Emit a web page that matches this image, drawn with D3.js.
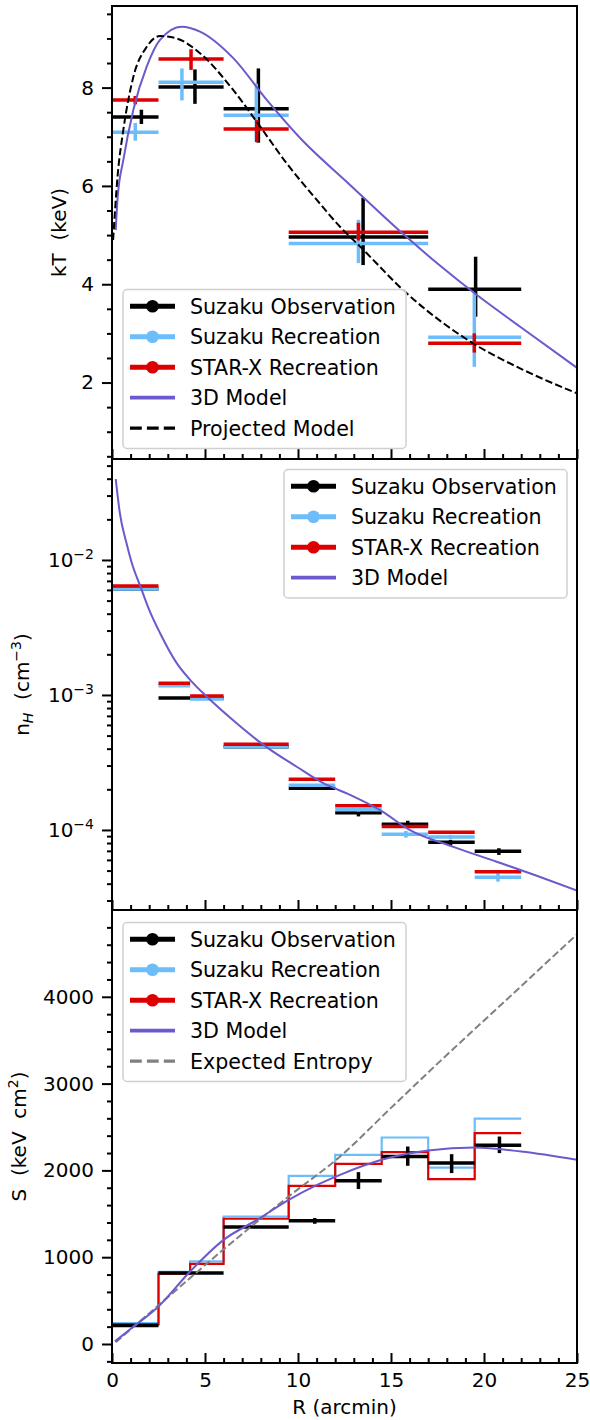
<!DOCTYPE html>
<html>
<head>
<meta charset="utf-8">
<script src="https://cdn.jsdelivr.net/npm/d3@7"></script>
<style>
body { margin: 0; background: #fff; }
svg text { font-family: "DejaVu Sans", sans-serif; font-size: 20px; fill: #000; }
.axis line { stroke: #000; stroke-width: 2; }
.axis path { display: none; }
.axis text { font-size: 20px; }
.legend text { font-size: 20.6px; }
</style>
</head>
<body>
<div id="chart"></div>
<script>
// ---- data ----
// temperature panel (keV)
var ktEdges = [0, 2.5, 6, 9.5, 17, 22];
var ktObsX = [1.58, 4.46, 7.87, 13.5, 19.55];
var ktObs = [7.40, 8.01, 7.57, 4.96, 3.90];
var ktObsLo = [7.26, 7.67, 6.88, 4.39, 3.34];
var ktObsHi = [7.55, 8.37, 8.39, 5.76, 4.56];
var ktSuzX = [1.25, 3.76, 7.76, 13.25, 19.48];
var ktSuz = [7.09, 8.11, 7.44, 4.83, 2.92];
var ktSuzLo = [6.92, 7.74, 6.90, 4.43, 2.32];
var ktSuzHi = [7.28, 8.39, 8.08, 5.31, 3.82];
var ktStarX = [1.25, 4.25, 7.78, 13.25, 19.48];
var ktStar = [7.75, 8.58, 7.16, 5.06, 2.80];
var ktStarLo = [7.66, 8.36, 6.89, 4.89, 2.61];
var ktStarHi = [7.83, 8.78, 7.34, 5.25, 3.00];
var kt3dR = [0.2, 0.3, 0.61, 1.15, 1.87, 2.58, 3.75, 4.73, 6.52, 8.32, 10.1, 12.8, 15.66, 17.63, 19.55, 22, 25];
var kt3d = [5.1, 5.75, 6.53, 7.55, 8.43, 8.97, 9.24, 9.14, 8.60, 7.75, 6.98, 6.02, 5.02, 4.38, 3.80, 3.12, 2.30];
var ktProjR = [0.06, 0.3, 0.61, 1.15, 1.87, 2.58, 3.48, 4.73, 6.52, 7.96, 9.39, 11.0, 12.26, 13.33, 15.83, 19.4, 22.1, 25];
var ktProj = [4.9, 6.2, 7.14, 8.22, 8.83, 9.05, 9.0, 8.70, 7.95, 7.21, 6.46, 5.72, 5.17, 4.77, 3.82, 2.80, 2.26, 1.78];

// density panel (cm^-3)
var nhEdges = [0, 2.5, 4.2, 6, 9.5, 12, 14.5, 17, 19.5, 22];
var nhObsX = [1.25, 3.3, 5.1, 7.75, 10.75, 13.25, 15.9, 18.2, 20.8];
var nhObs = [6.1e-3, 9.5e-4, 9.5e-4, 4.14e-4, 2.04e-4, 1.34e-4, 1.10e-4, 8.1e-5, 6.95e-5];
var nhObsLo = [6.0e-3, 9.35e-4, 9.35e-4, 4.08e-4, 2.0e-4, 1.26e-4, 1.03e-4, 7.66e-5, 6.53e-5];
var nhObsHi = [6.2e-3, 9.65e-4, 9.65e-4, 4.2e-4, 2.08e-4, 1.42e-4, 1.17e-4, 8.44e-5, 7.32e-5];
var nhSuzX = [1.25, 3.3, 5.1, 7.75, 10.75, 13.25, 15.8, 18.2, 20.75];
var nhSuz = [6.1e-3, 1.17e-3, 9.34e-4, 4.14e-4, 2.14e-4, 1.41e-4, 9.3e-5, 8.85e-5, 4.47e-5];
var nhSuzLo = [6.0e-3, 1.15e-3, 9.2e-4, 4.08e-4, 2.1e-4, 1.37e-4, 8.77e-5, 8.53e-5, 4.14e-5];
var nhSuzHi = [6.2e-3, 1.19e-3, 9.5e-4, 4.2e-4, 2.18e-4, 1.44e-4, 9.84e-5, 9.19e-5, 4.78e-5];
var nhStar = [6.41e-3, 1.22e-3, 9.84e-4, 4.31e-4, 2.37e-4, 1.51e-4, 1.06e-4, 9.61e-5, 4.91e-5];
var nhStarLo = [6.35e-3, 1.21e-3, 9.75e-4, 4.27e-4, 2.35e-4, 1.49e-4, 1.05e-4, 9.5e-5, 4.85e-5];
var nhStarHi = [6.47e-3, 1.23e-3, 9.93e-4, 4.35e-4, 2.39e-4, 1.53e-4, 1.07e-4, 9.72e-5, 4.97e-5];
var nh3dR = [0.2, 0.43, 0.75, 1.06, 1.54, 2.0, 2.58, 3.48, 4.3, 5.09, 6.7, 8.14, 9.93, 11.36, 12.8, 14.5, 16.0, 18.35, 20.68, 22.8, 25];
var nh3d = [0.0398, 0.0219, 0.0138, 0.00955, 6.3e-3, 4.27e-3, 2.88e-3, 1.72e-3, 1.25e-3, 9.73e-4, 6.17e-4, 4.27e-4, 2.94e-4, 2.22e-4, 1.82e-4, 1.38e-4, 1.0e-4, 7.5e-5, 5.82e-5, 4.6e-5, 3.56e-5];

// entropy panel (keV cm^2)
var sEdges = [0, 2.5, 4.2, 6, 9.5, 12, 14.5, 17, 19.5, 22];
var sObsX = [1.25, 3.3, 5.1, 7.75, 10.9, 13.25, 15.9, 18.26, 20.83];
var sObs = [214, 817, 817, 1347, 1420, 1880, 2160, 2084, 2291];
var sObsLo = [205, 805, 805, 1335, 1385, 1785, 2053, 1969, 2199];
var sObsHi = [223, 829, 829, 1359, 1451, 1980, 2275, 2187, 2390];
var sSuz = [242, 832, 951, 1469, 1938, 2179, 2379, 2033, 2597];
var sStar = [226, 809, 924, 1443, 1822, 2076, 2210, 1900, 2429];
var s3dR = [0.16, 1.06, 2.5, 4.2, 6.0, 7.8, 9.5, 11.0, 12.26, 14.5, 17, 19.5, 22, 25];
var s3d = [30, 184, 433, 836, 1200, 1430, 1660, 1830, 1949, 2122, 2229, 2263, 2217, 2122];
var sExpR = [0.2, 4.2, 6, 9.5, 12.26, 15, 17.5, 21.2, 25];
var sExp = [20, 760, 1090, 1700, 2160, 2720, 3230, 3964, 4720];

var legendTop = ["Suzaku Observation", "Suzaku Recreation", "STAR-X Recreation", "3D Model", "Projected Model"];
var legendMid = ["Suzaku Observation", "Suzaku Recreation", "STAR-X Recreation", "3D Model"];
var legendBot = ["Suzaku Observation", "Suzaku Recreation", "STAR-X Recreation", "3D Model", "Expected Entropy"];

var cBlack = "#000000", cBlue = "#6cbdf9", cRed = "#dd0000", cPurple = "#6a5acd", cGray = "#808080";

// ---- layout ----
var svgWidth = 590, svgHeight = 1420;
var left = 112, right = 577;
var tops = [6, 459, 910], bottoms = [459, 910, 1363];

var svg = d3.select("#chart").append("svg")
    .attr("width", svgWidth)
    .attr("height", svgHeight);

var x = d3.scaleLinear().domain([0, 25]).range([left, right]);
var yKT = d3.scaleLinear().domain([0.445, 9.66]).range([bottoms[0], tops[0]]);
var yNH = d3.scaleLog().domain([Math.pow(10, -4.593), Math.pow(10, -1.252)]).range([bottoms[1], tops[1]]);
var yS = d3.scaleLinear().domain([-219, 5000]).range([bottoms[2], tops[2]]);

// clip each panel
var defs = svg.append("defs");
tops.forEach(function(t, i) {
    defs.append("clipPath").attr("id", "clip" + i)
        .append("rect").attr("x", left).attr("y", t)
        .attr("width", right - left).attr("height", bottoms[i] - t);
});

var panels = tops.map(function(t, i) {
    return svg.append("g").attr("clip-path", "url(#clip" + i + ")");
});

// x ticks (inward) on every panel
bottoms.forEach(function(b, i) {
    svg.append("g").attr("class", "axis")
        .attr("transform", `translate(0, ${b})`)
        .call(d3.axisBottom(x).tickValues(d3.range(0, 26, 1).filter(d => d % 5)).tickSize(-5).tickFormat(""));
    svg.append("g").attr("class", "axis")
        .attr("transform", `translate(0, ${b})`)
        .call(d3.axisBottom(x).tickValues([0, 5, 10, 15, 20, 25]).tickSize(-10).tickPadding(10)
            .tickFormat(i == 2 ? d3.format("d") : ""));
});

// y axis, kT
svg.append("g").attr("class", "axis").attr("transform", `translate(${left}, 0)`)
    .call(d3.axisLeft(yKT).tickValues(d3.range(0.5, 9.6, 0.5).filter(d => d % 2)).tickSize(5).tickFormat(""));
svg.append("g").attr("class", "axis").attr("transform", `translate(${left}, 0)`)
    .call(d3.axisLeft(yKT).tickValues([2, 4, 6, 8]).tickSize(10).tickPadding(8));

// y axis, nH (log)
var nhMinor = [];
[-5, -4, -3, -2].forEach(function(e) {
    for (var k = 2; k <= 9; k++) {
        var v = k * Math.pow(10, e);
        if (v > yNH.domain()[0] && v < yNH.domain()[1]) nhMinor.push(v);
    }
});
svg.append("g").attr("class", "axis").attr("transform", `translate(${left}, 0)`)
    .call(d3.axisLeft(yNH).tickValues(nhMinor).tickSize(5).tickFormat(""));
svg.append("g").attr("class", "axis").attr("transform", `translate(${left}, 0)`)
    .call(d3.axisLeft(yNH).tickValues([1e-4, 1e-3, 1e-2]).tickSize(10).tickFormat(""));
[-4, -3, -2].forEach(function(e) {
    var t = svg.append("text")
        .attr("x", left - 18)
        .attr("y", yNH(Math.pow(10, e)) + 7)
        .attr("text-anchor", "end");
    t.append("tspan").text("10");
    t.append("tspan").attr("dy", -7.5).style("font-size", "14px").text("\u2212" + (-e));
});

// y axis, S
svg.append("g").attr("class", "axis").attr("transform", `translate(${left}, 0)`)
    .call(d3.axisLeft(yS).tickValues(d3.range(-200, 5000, 200).filter(d => d % 1000)).tickSize(5).tickFormat(""));
svg.append("g").attr("class", "axis").attr("transform", `translate(${left}, 0)`)
    .call(d3.axisLeft(yS).tickValues([0, 1000, 2000, 3000, 4000]).tickSize(10).tickPadding(8).tickFormat(d3.format("d")));

// error bar crosses
function drawErr(g, yScale, edges, xs, vals, lo, hi, color) {
    vals.forEach(function(v, i) {
        g.append("line")
            .attr("x1", x(edges[i])).attr("x2", x(edges[i + 1]))
            .attr("y1", yScale(v)).attr("y2", yScale(v))
            .attr("stroke", color).attr("stroke-width", 3.5);
        g.append("line")
            .attr("x1", x(xs[i])).attr("x2", x(xs[i]))
            .attr("y1", yScale(lo[i])).attr("y2", yScale(hi[i]))
            .attr("stroke", color).attr("stroke-width", 3.5);
    });
}

function drawCurve(g, yScale, rs, vals, color, width, dash) {
    var line = d3.line()
        .x((d, i) => x(rs[i]))
        .y(d => yScale(d))
        .curve(d3.curveMonotoneX);
    g.append("path")
        .attr("d", line(vals))
        .attr("fill", "none")
        .attr("stroke", color)
        .attr("stroke-width", width)
        .attr("stroke-dasharray", dash || null);
}

function drawStep(g, yScale, edges, vals, color) {
    var pts = vals.map((v, i) => [edges[i], v]);
    pts.push([edges[edges.length - 1], vals[vals.length - 1]]);
    var line = d3.line()
        .x(d => x(d[0]))
        .y(d => yScale(d[1]))
        .curve(d3.curveStepAfter);
    g.append("path")
        .attr("d", line(pts))
        .attr("fill", "none")
        .attr("stroke", color)
        .attr("stroke-width", 2.2);
}

// top panel
drawErr(panels[0], yKT, ktEdges, ktObsX, ktObs, ktObsLo, ktObsHi, cBlack);
drawErr(panels[0], yKT, ktEdges, ktSuzX, ktSuz, ktSuzLo, ktSuzHi, cBlue);
drawErr(panels[0], yKT, ktEdges, ktStarX, ktStar, ktStarLo, ktStarHi, cRed);
drawCurve(panels[0], yKT, kt3dR, kt3d, cPurple, 2);
drawCurve(panels[0], yKT, ktProjR, ktProj, cBlack, 2, "7.4,3.2");

// middle panel
drawErr(panels[1], yNH, nhEdges, nhObsX, nhObs, nhObsLo, nhObsHi, cBlack);
drawErr(panels[1], yNH, nhEdges, nhSuzX, nhSuz, nhSuzLo, nhSuzHi, cBlue);
drawErr(panels[1], yNH, nhEdges, nhSuzX, nhStar, nhStarLo, nhStarHi, cRed);
drawCurve(panels[1], yNH, nh3dR, nh3d, cPurple, 2);

// bottom panel
drawStep(panels[2], yS, sEdges, sSuz, cBlue);
drawStep(panels[2], yS, sEdges, sStar, cRed);
drawErr(panels[2], yS, sEdges, sObsX, sObs, sObsLo, sObsHi, cBlack);
drawCurve(panels[2], yS, sExpR, sExp, cGray, 2, "7.4,3.2");
drawCurve(panels[2], yS, s3dR, s3d, cPurple, 2);

// panel frames
tops.forEach(function(t, i) {
    svg.append("rect")
        .attr("x", left).attr("y", t)
        .attr("width", right - left).attr("height", bottoms[i] - t)
        .attr("fill", "none").attr("stroke", "#000").attr("stroke-width", 2);
});

// legends
var handleStyle = [
    {color: cBlack, w: 5, marker: true},
    {color: cBlue, w: 5, marker: true},
    {color: cRed, w: 5, marker: true}
];
function legend(x0, y0, labels, extra) {
    var styles = handleStyle.concat(extra);
    var rowH = 30.5;
    var h = labels.length * rowH + 6.5;
    var g = svg.append("g").attr("class", "legend");
    g.append("rect")
        .attr("x", x0).attr("y", y0)
        .attr("width", 283).attr("height", h)
        .attr("rx", 4)
        .attr("fill", "#fff").attr("fill-opacity", 0.8)
        .attr("stroke", "#d0d0d0").attr("stroke-width", 1.5);
    labels.forEach(function(lab, i) {
        var cy = y0 + 16.7 + i * rowH;
        var s = styles[i];
        g.append("line")
            .attr("x1", x0 + 7).attr("x2", x0 + 52)
            .attr("y1", cy).attr("y2", cy)
            .attr("stroke", s.color).attr("stroke-width", s.w)
            .attr("stroke-dasharray", s.dash || null);
        if (s.marker) {
            g.append("circle")
                .attr("cx", x0 + 29.5).attr("cy", cy).attr("r", 6.3)
                .attr("fill", s.color);
        }
        g.append("text")
            .attr("x", x0 + 67).attr("y", cy + 7.4)
            .text(lab);
    });
}
legend(123, 289.5, legendTop, [{color: cPurple, w: 3.8}, {color: cBlack, w: 3.2, dash: "11.8,5.1"}]);
legend(284, 469.5, legendMid, [{color: cPurple, w: 3.8}]);
legend(123, 922.5, legendBot, [{color: cPurple, w: 3.8}, {color: cGray, w: 3.2, dash: "11.8,5.1"}]);

// axis labels
svg.append("text")
    .attr("transform", `translate(66, ${(tops[0] + bottoms[0]) / 2}) rotate(-90)`)
    .attr("text-anchor", "middle")
    .text("kT\u00a0\u00a0(keV)");

var nhLabel = svg.append("text")
    .attr("transform", `translate(29, ${(tops[1] + bottoms[1]) / 2}) rotate(-90)`)
    .attr("text-anchor", "middle");
nhLabel.append("tspan").text("n");
nhLabel.append("tspan").attr("dy", 4).style("font-size", "14px").style("font-style", "italic").text("H");
nhLabel.append("tspan").attr("dy", -4).text("\u00a0\u00a0(cm");
nhLabel.append("tspan").attr("dy", -8).style("font-size", "14px").text("\u22123");
nhLabel.append("tspan").attr("dy", 8).text(")");

var sLabel = svg.append("text")
    .attr("transform", `translate(26, ${(tops[2] + bottoms[2]) / 2}) rotate(-90)`)
    .attr("text-anchor", "middle");
sLabel.append("tspan").text("S\u00a0\u00a0(keV\u00a0\u00a0cm");
sLabel.append("tspan").attr("dy", -8).style("font-size", "14px").text("2");
sLabel.append("tspan").attr("dy", 8).text(")");

svg.append("text")
    .attr("x", (left + right) / 2)
    .attr("y", 1414)
    .attr("text-anchor", "middle")
    .text("R (arcmin)");
</script>
</body>
</html>
